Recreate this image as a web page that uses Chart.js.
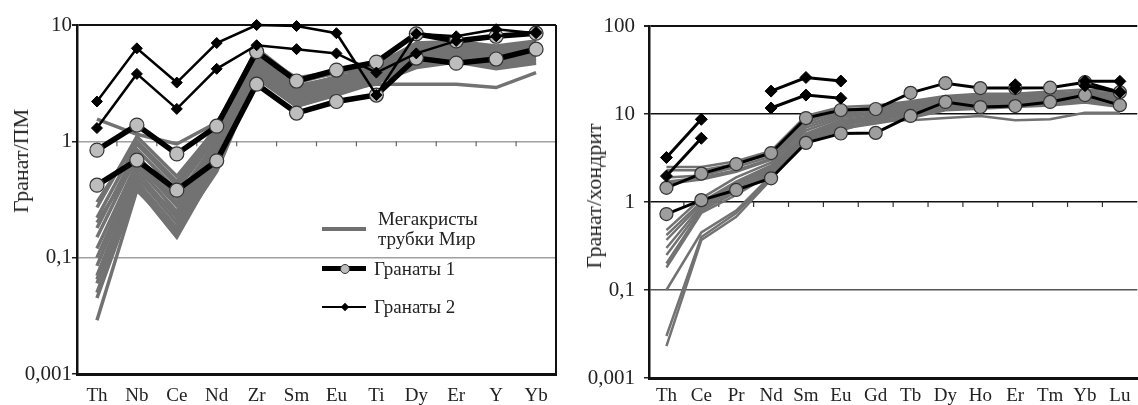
<!DOCTYPE html>
<html><head><meta charset="utf-8">
<script src="https://cdn.jsdelivr.net/npm/chart.js@4/dist/chart.umd.min.js"></script>
<style>
html,body{margin:0;padding:0;width:1138px;height:405px;overflow:hidden;background:#fff;}
#c1{position:absolute;left:0;top:0;}
#c2{position:absolute;left:570px;top:0;}
.yt{position:absolute;font-family:"Liberation Serif",serif;color:#222;white-space:nowrap;transform:translate(-50%,-50%) rotate(-90deg);}
.lg{position:absolute;font-family:"Liberation Serif",serif;font-size:19px;color:#222;line-height:20px;white-space:nowrap;}
.bar{position:absolute;}
</style></head><body>
<canvas id="c1" width="570" height="405"></canvas>
<canvas id="c2" width="575" height="405"></canvas>
<div class="yt" style="left:21px;top:161px;font-size:22px;">Гранат/ПМ</div>
<div class="yt" style="left:594px;top:196px;font-size:22px;">Гранат/хондрит</div>

<div class="bar" style="left:322px;top:227px;width:44px;height:4px;background:#707070;"></div>
<div class="lg" style="left:378px;top:209px;">Мегакристы<br>трубки Мир</div>
<div class="bar" style="left:322px;top:266px;width:44px;height:5px;background:#000;"></div>
<div class="bar" style="left:340px;top:264px;width:8px;height:8px;border-radius:50%;background:#bdbdbd;border:1px solid #333;"></div>
<div class="lg" style="left:374px;top:259px;">Гранаты 1</div>
<div class="bar" style="left:322px;top:305.5px;width:44px;height:2.5px;background:#000;"></div>
<div class="bar" style="left:342px;top:303.5px;width:6px;height:6px;background:#000;transform:rotate(45deg);"></div>
<div class="lg" style="left:374px;top:297px;">Гранаты 2</div>

<script>
// ---------- Left chart: normalised to primitive mantle ----------
const elemsPM = ['Th','Nb','Ce','Nd','Zr','Sm','Eu','Ti','Dy','Er','Y','Yb'];
const pmTickValues = [0.01, 0.1, 1, 10];
const pmTickLabels = ['0,001', '0,1', '1', '10'];

const megaPM = [
  [1.55,1.15,0.95,1.45,5.0,3.0,3.5,4.3,6.5,7.0,6.0,7.0],
  [0.27,1.1,0.5,1.3,6.3,3.4,3.8,4.5,7.0,7.2,6.6,7.3],
  [0.3,1.0,0.45,1.35,5.8,3.5,4.0,4.6,6.8,7.0,6.5,7.1],
  [0.22,0.95,0.42,1.2,6.0,3.2,3.9,4.2,6.6,6.8,6.2,7.0],
  [0.18,0.85,0.38,1.1,5.5,2.9,3.6,4.0,6.2,6.5,5.8,6.7],
  [0.2,0.7,0.3,0.95,5.0,2.8,3.4,3.9,6.0,6.4,5.9,6.3],
  [0.15,0.75,0.33,1.0,5.2,2.7,3.3,3.8,5.8,6.2,5.5,6.4],
  [0.12,0.65,0.28,0.9,4.8,2.5,3.1,3.7,5.5,6.0,5.2,6.0],
  [0.1,0.6,0.25,0.85,4.5,2.4,3.0,3.6,5.2,5.7,5.0,5.8],
  [0.065,0.48,0.24,0.78,4.2,2.6,3.2,3.6,5.4,5.8,5.3,5.6],
  [0.085,0.55,0.22,0.8,4.3,2.3,2.9,3.5,5.0,5.5,4.8,5.5],
  [0.07,0.5,0.2,0.75,4.0,2.2,2.8,3.4,4.8,5.3,4.6,5.2],
  [0.06,0.45,0.18,0.7,3.8,2.1,2.7,3.3,4.6,5.0,4.5,5.0],
  [0.05,0.42,0.16,0.65,3.6,2.0,2.6,3.2,4.5,4.9,4.3,4.8],
  [0.045,0.4,0.15,0.6,3.5,2.0,2.5,3.2,4.3,4.8,4.2,4.7],
  [0.029,0.38,0.17,0.55,3.6,2.2,2.8,3.1,3.1,3.1,2.9,3.9]
];
const gar1PM_a = [0.84,1.38,0.78,1.35,5.9,3.3,4.1,4.8,8.4,7.3,8.0,8.5];
const gar1PM_b = [0.42,0.69,0.38,0.68,3.1,1.75,2.2,2.5,5.2,4.7,5.1,6.2];
const gar2PM_a = [2.2,6.3,3.2,7.0,10,9.8,8.5,2.5,8.4,8.0,9.2,8.5];
const gar2PM_b = [1.3,3.8,1.9,4.2,6.7,6.2,5.7,3.9,5.7,7.3,8.0,8.7];

// ---------- Right chart: chondrite-normalised ----------
const elemsCH = ['Th','Ce','Pr','Nd','Sm','Eu','Gd','Tb','Dy','Ho','Er','Tm','Yb','Lu'];
const chTickValues = [0.01, 0.1, 1, 10, 100];
const chTickLabels = ['0,001', '0,1', '1', '10', '100'];

const megaCH = [
  [2.5,2.5,2.9,3.8,9.5,12,12.5,14,16,17,17,18,19,18],
  [2.3,2.3,2.7,3.5,8.5,11,12,13.5,15.5,16,16.5,17,18,17],
  [1.9,2.0,2.5,3.3,8.0,10.5,11.5,13,15,15.5,16,16.5,17.5,16],
  [1.7,1.9,2.3,3.1,7.5,10,11,12.5,14.5,15,15.5,16,17,15.5],
  [1.6,1.8,2.2,3.0,7.0,9.5,10.5,12,14,14.5,15,15.5,16.5,15],
  [0.48,1.1,1.9,2.8,6.5,9.0,10,11.5,13.5,14,14.5,15,16,14.5],
  [0.42,1.0,1.7,2.6,6.0,8.5,9.5,11,13,13.5,14,14.5,15.5,14],
  [0.37,0.95,1.6,2.5,5.7,8.0,9.0,10.5,12.5,13,13.5,14,15,13.5],
  [0.3,0.9,1.5,2.4,5.5,7.5,8.5,10,12,12.5,13,13.5,14.5,13],
  [0.25,0.85,1.4,2.3,5.3,7.0,8.0,9.5,11.5,12,12.5,13,14,12.5],
  [0.2,0.8,1.3,2.2,5.0,6.8,7.8,9.0,11,11.5,12,12.5,13.5,12],
  [0.18,0.75,1.2,2.1,5.0,6.5,8.5,8.5,9.0,9.5,8.5,8.7,10.3,10.3],
  [0.1,0.45,0.8,2.0,5.5,7.5,9.0,10.5,12.5,13,13.5,14,15,13.5],
  [0.03,0.4,0.75,1.9,5.8,8.0,9.5,11,13,13.5,14,14.5,15.5,14],
  [0.023,0.37,0.68,1.8,5.2,7.2,8.8,10,12,12.5,13,13.5,14.5,13]
];
const gar1CH_a = [1.45,2.1,2.7,3.6,9.0,11.1,11.4,17.4,22.4,19.7,19.7,19.9,23,17.7];
const gar1CH_b = [0.73,1.05,1.37,1.86,4.7,6.0,6.1,9.5,13.7,12.0,12.3,13.7,16.4,12.6];
const gar2CH_a = [3.2,8.7,null,18.2,26,23.7,null,null,null,null,21.5,null,23.5,23.5];
const gar2CH_b = [1.97,5.3,null,11.7,16.4,15.1,null,null,null,null,19.5,null,21,17.7];

const FONT = 'Liberation Serif';

const framePlugin = {
  id: 'frame',
  beforeDatasetsDraw(chart, args, opts) {
    const ctx = chart.ctx, a = chart.chartArea;
    const xs = chart.scales.x, ys = chart.scales.y;
    ctx.save();
    if (opts.rightBorder) {
      ctx.strokeStyle = '#111'; ctx.lineWidth = 2;
      ctx.beginPath(); ctx.moveTo(a.right, a.top); ctx.lineTo(a.right, a.bottom); ctx.stroke();
    }
    const y1 = ys.getPixelForValue(1);
    ctx.strokeStyle = opts.tickColor || '#444'; ctx.lineWidth = 1.2;
    const n = xs.getLabels().length;
    for (let i = 0; i < n - 1; i++) {
      const x = (xs.getPixelForValue(i) + xs.getPixelForValue(i + 1)) / 2;
      ctx.beginPath(); ctx.moveTo(x, y1); ctx.lineTo(x, y1 + 5); ctx.stroke();
    }
    ctx.restore();
  }
};

function grayDS(arr, w) {
  return arr.map(d => ({data: d, borderColor: '#727272', borderWidth: w, pointRadius: 0, tension: 0, order: 3}));
}
function g1DS(d, w, r, fill) {
  return {data: d, borderColor: '#000', borderWidth: w, pointStyle: 'circle', pointRadius: r,
    pointBackgroundColor: fill, pointBorderColor: '#333', pointBorderWidth: 1.2, order: 2, clip: false};
}
function g2DS(d, w, r) {
  return {data: d, borderColor: '#000', borderWidth: w, pointStyle: 'rectRot', pointRadius: r,
    pointBackgroundColor: '#000', pointBorderColor: '#000', pointBorderWidth: 1, order: 1, clip: false, spanGaps: false};
}

function makeChart(id, labels, datasets, cfg) {
  return new Chart(document.getElementById(id), {
    type: 'line',
    data: {labels, datasets},
    plugins: [framePlugin],
    options: {
      responsive: false, animation: false, devicePixelRatio: 1,
      layout: {padding: cfg.padding},
      plugins: {legend: {display: false}, tooltip: {enabled: false}, frame: cfg.frame},
      scales: {
        x: {
          type: 'category', offset: true,
          grid: {display: false, drawTicks: false},
          border: {display: true, color: '#111', width: 3},
          ticks: {font: {family: FONT, size: 19}, color: '#222', padding: cfg.xPad, maxRotation: 0, autoSkip: false},
          afterFit: s => { s.height = cfg.xHeight; }
        },
        y: {
          type: 'logarithmic', min: cfg.tickValues[0], max: cfg.tickValues[cfg.tickValues.length - 1],
          afterBuildTicks: s => { s.ticks = cfg.tickValues.map(v => ({value: v})); },
          afterFit: s => { s.width = cfg.yWidth; },
          ticks: {
            font: {family: FONT, size: 21}, color: '#222', padding: cfg.yPad, autoSkip: false,
            callback: (v, i) => cfg.tickLabels[i]
          },
          grid: {
            color: c => cfg.gridColor(c.tick ? c.tick.value : 0),
            lineWidth: c => (c.tick && c.tick.value === cfg.tickValues[cfg.tickValues.length - 1]) ? 2 : 1.5,
            tickLength: 5, tickColor: '#222', drawTicks: true
          },
          border: {display: true, color: '#111', width: 2.5}
        }
      }
    }
  });
}

makeChart('c1', elemsPM, [
  g2DS(gar2PM_a, 2.5, 5.5), g2DS(gar2PM_b, 2.5, 5.5),
  g1DS(gar1PM_a, 5.5, 7, '#bdbdbd'), g1DS(gar1PM_b, 5.5, 7, '#bdbdbd'),
  ...grayDS(megaPM, 3.5)
], {
  padding: {top: 25, right: 14, left: 0, bottom: 0},
  xHeight: 31, yWidth: 77, yPad: 0, xPad: 11,
  tickValues: pmTickValues, tickLabels: pmTickLabels,
  gridColor: v => v >= 10 ? '#111' : (v <= 0.01 ? '#111' : '#a0a0a0'),
  frame: {rightBorder: true, tickColor: '#666'}
});

makeChart('c2', elemsCH, [
  g2DS(gar2CH_a, 3, 6), g2DS(gar2CH_b, 3, 6),
  g1DS(gar1CH_a, 3, 6.5, '#9e9e9e'), g1DS(gar1CH_b, 3, 6.5, '#9e9e9e'),
  ...grayDS(megaCH, 2.5)
], {
  padding: {top: 26, right: 2, left: 0, bottom: 0},
  xHeight: 27, yWidth: 79, yPad: 9, xPad: 7,
  tickValues: chTickValues, tickLabels: chTickLabels,
  gridColor: v => v >= 1 ? '#111' : (v <= 0.01 ? '#111' : '#555'),
  frame: {rightBorder: false, tickColor: '#333'}
});
</script>
</body></html>
